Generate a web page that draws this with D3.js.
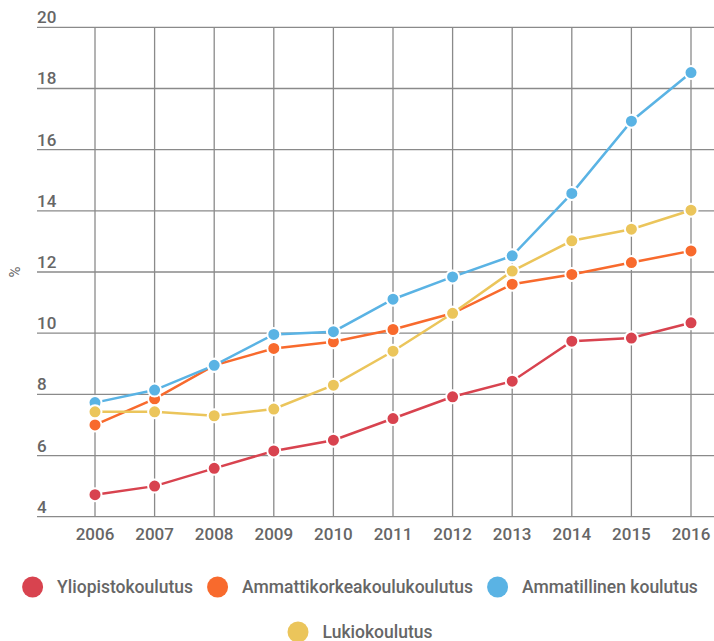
<!DOCTYPE html>
<html>
<head>
<meta charset="utf-8">
<script src="https://cdn.jsdelivr.net/npm/d3@7"></script>
<style>
  body { margin: 0; background: #fff; }
  svg { font-family: Roboto, "Noto Sans", sans-serif; }
</style>
</head>
<body>
<script>
var years = [2006, 2007, 2008, 2009, 2010, 2011, 2012, 2013, 2014, 2015, 2016];
var yliopisto = [4.72, 5.0, 5.58, 6.15, 6.5, 7.21, 7.92, 8.43, 9.74, 9.84, 10.34];
var amk = [7.0, 7.85, 8.95, 9.5, 9.72, 10.12, 10.65, 11.6, 11.92, 12.31, 12.69];
var ammatillinen = [7.73, 8.14, 8.95, 9.96, 10.05, 11.11, 11.84, 12.53, 14.57, 16.93, 18.52];
var lukio = [7.43, 7.43, 7.3, 7.52, 8.3, 9.41, 10.65, 12.03, 13.02, 13.4, 14.02];
var yTicks = [4, 6, 8, 10, 12, 14, 16, 18, 20];

var series = [
  {name: "Yliopistokoulutus", values: yliopisto, color: "#d8434f"},
  {name: "Ammattikorkeakoulukoulutus", values: amk, color: "#f86a2d"},
  {name: "Ammatillinen koulutus", values: ammatillinen, color: "#5ab3e4"},
  {name: "Lukiokoulutus", values: lukio, color: "#ebc55b"}
];

var width = 714, height = 641;

var svg = d3.select("body").append("svg")
    .attr("width", width)
    .attr("height", height);

var x = d3.scalePoint()
    .domain(years)
    .range([95, 691]);

var y = d3.scaleLinear()
    .domain([4, 20])
    .range([516.7, 27.3]);

// grid lines
svg.append("g")
    .selectAll("line")
    .data(yTicks)
    .enter().append("line")
    .attr("x1", 37).attr("x2", width)
    .attr("y1", function(d) { return y(d); })
    .attr("y2", function(d) { return y(d); })
    .style("stroke", "#8a8a8a")
    .style("stroke-width", 1.3);

svg.append("g")
    .selectAll("line")
    .data(years)
    .enter().append("line")
    .attr("x1", function(d) { return x(d); })
    .attr("x2", function(d) { return x(d); })
    .attr("y1", y(20)).attr("y2", y(4))
    .style("stroke", "#8a8a8a")
    .style("stroke-width", 1.3);

// y labels
svg.append("g")
    .selectAll("text")
    .data(yTicks)
    .enter().append("text")
    .attr("x", 37)
    .attr("y", function(d) { return y(d) - 4; })
    .text(function(d) { return d; })
    .style("font-size", "17px")
    .style("font-weight", 500)
    .style("fill", "#666");

// x labels
svg.append("g")
    .selectAll("text")
    .data(years)
    .enter().append("text")
    .attr("x", function(d) { return x(d); })
    .attr("y", 540)
    .attr("text-anchor", "middle")
    .text(function(d) { return d; })
    .style("font-size", "17px")
    .style("font-weight", 500)
    .style("fill", "#666");

svg.append("text")
    .attr("transform", "translate(20,272) rotate(-90)")
    .attr("text-anchor", "middle")
    .text("%")
    .style("font-size", "15px")
    .style("fill", "#666");

var line = d3.line()
    .x(function(d, i) { return x(years[i]); })
    .y(function(d) { return y(d); });

var g = svg.selectAll(".series")
    .data(series)
    .enter().append("g")
    .attr("class", "series");

g.append("path")
    .attr("d", function(d) { return line(d.values); })
    .style("fill", "none")
    .style("stroke", function(d) { return d.color; })
    .style("stroke-width", 2.5);

g.selectAll("circle")
    .data(function(d) { return d.values.map(function(v, i) { return {v: v, i: i, color: d.color}; }); })
    .enter().append("circle")
    .attr("cx", function(d) { return x(years[d.i]); })
    .attr("cy", function(d) { return y(d.v); })
    .attr("r", 6.5)
    .style("fill", function(d) { return d.color; })
    .style("stroke", "#fff")
    .style("stroke-width", 2);

// legend
var rows = [[0, 1, 2], [3]];
var rowY = [587, 632];
rows.forEach(function(row, ri) {
  var items = row.map(function(k) { return series[k]; });
  var lg = svg.append("g");
  var widths = [];
  items.forEach(function(s) {
    var t = lg.append("text").text(s.name)
        .style("font-size", "17.5px").style("font-weight", 500);
    widths.push(t.node().getComputedTextLength());
    t.remove();
  });
  var itemW = widths.map(function(w) { return 21 + 14 + w; });
  var total = d3.sum(itemW) + 14 * (items.length - 1);
  var cx = 360 - total / 2;
  items.forEach(function(s, i) {
    lg.append("circle")
        .attr("cx", cx + 10.5).attr("cy", rowY[ri])
        .attr("r", 10.5)
        .style("fill", s.color);
    lg.append("text")
        .attr("x", cx + 35).attr("y", rowY[ri] + 6)
        .text(s.name)
        .style("font-size", "17.5px")
        .style("font-weight", 500)
        .style("fill", "#666");
    cx += itemW[i] + 14;
  });
});
</script>
</body>
</html>
